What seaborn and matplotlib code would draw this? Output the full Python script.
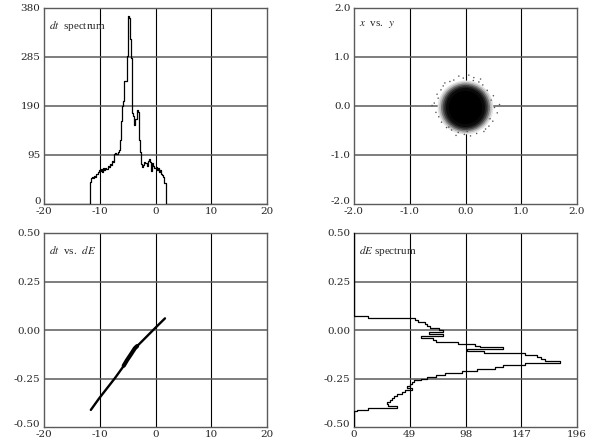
import numpy as np
import pandas as pd
import matplotlib
matplotlib.use("Agg")
import matplotlib.pyplot as plt
import matplotlib.transforms as mtransforms
from matplotlib.patches import Ellipse
import seaborn as sns

# ── data ────────────────────────────────────────────────────
# dt spectrum, 0.2 wide bins starting at -11.8
dt_start, dt_width = -11.8, 0.2
dt_counts = [42, 50, 52, 50, 54, 52, 58, 62, 66, 64,
             68, 63, 70, 66, 70, 68, 74, 72, 78, 76,
             84, 82, 96, 98, 96, 100, 104, 125, 160, 190,
             200, 238, 238, 286, 364, 360, 320, 283, 176, 170,
             153, 165, 182, 178, 124, 100, 78, 72, 76, 82,
             80, 74, 84, 88, 82, 64, 80, 74, 70, 72,
             66, 70, 62, 66, 58, 56, 52, 40]

# dE spectrum, 0.01 wide bins starting at -0.42
dE_start, dE_width = -0.42, 0.01
dE_counts = [3, 12, 38, 30, 29, 32, 33, 35, 38, 42,
             45, 51, 47, 49, 51, 53, 59, 64, 72, 80,
             95, 108, 124, 131, 150, 181, 168, 164, 161, 150,
             114, 99, 131, 111, 106, 91, 72, 69, 59, 78,
             66, 78, 75, 67, 64, 62, 56, 54, 12]

# dt vs dE correlation
corr_dt = [-11.6, -10.1, -7.3, -5.8, -5.1, -3.7, -2.8, -0.1, 1.7]
corr_dE = [-0.412, -0.352, -0.249, -0.189, -0.155, -0.094, -0.069, 0.009, 0.060]
core_dt = [-5.7, -5.1, -4.4, -3.7, -3.3]
core_dE = [-0.184, -0.155, -0.125, -0.094, -0.083]

# x vs y beam spot: nested density levels + sparse halo
blob_x0, blob_y0 = 0.0, -0.03
blob_rx = [0.50, 0.47, 0.44, 0.41, 0.38, 0.35, 0.30]
blob_ry = [0.55, 0.52, 0.49, 0.46, 0.43, 0.40, 0.34]
blob_shade = ["#e2e2e2", "#b8b8b8", "#7c7c7c", "#484848", "#222222", "#0a0a0a", "#000000"]
halo_x = [-0.56, -0.51, -0.48, -0.44, -0.37, -0.30, -0.21, -0.12, -0.04, 0.06,
          0.14, 0.24, 0.31, 0.39, 0.46, 0.52, 0.57, 0.49, 0.42, 0.33,
          0.20, 0.09, -0.02, -0.13, -0.25, -0.34, -0.43, -0.53, -0.60, 0.61,
          0.36, -0.40, 0.27, -0.17, 0.03, 0.50, -0.49, 0.15, -0.28, 0.44]
halo_y = [0.06, 0.24, -0.22, 0.33, 0.47, -0.43, 0.53, 0.61, 0.57, 0.63,
          0.52, 0.49, 0.43, 0.32, 0.12, -0.03, -0.14, -0.31, -0.41, -0.52,
          -0.56, -0.61, -0.58, -0.54, -0.49, -0.44, -0.33, -0.13, 0.01, 0.03,
          -0.47, 0.41, 0.55, -0.60, -0.52, 0.21, 0.16, 0.58, 0.50, -0.26]

dt_ticks = [-20, -10, 0, 10, 20]
dt_labels = ["-20", "-10", "0", "10", "20"]
cnt_ticks = [0, 95, 190, 285, 380]
cnt_labels = ["0", "95", "190", "285", "380"]
xy_ticks = [-2.0, -1.0, 0.0, 1.0, 2.0]
xy_labels = ["-2.0", "-1.0", "0.0", "1.0", "2.0"]
dE_ticks = [-0.50, -0.25, 0.0, 0.25, 0.50]
dE_labels = ["-0.50", "-0.25", "0.00", "0.25", "0.50"]
dEc_ticks = [0, 49, 98, 147, 196]
dEc_labels = ["0", "49", "98", "147", "196"]

# ── style ────────────────────────────────────────────────────
sns.set_style("white")
plt.rcParams["font.family"] = ["Liberation Serif", "DejaVu Serif"]
plt.rcParams["mathtext.fontset"] = "stix"
plt.rcParams["axes.unicode_minus"] = False

fig = plt.figure(figsize=(5.96, 4.45), dpi=100, facecolor="white")
W, H = 596, 445
def px_axes(x0, y0, x1, y1):
    return fig.add_axes([x0 / W, 1 - y1 / H, (x1 - x0) / W, (y1 - y0) / H])

ax1 = px_axes(44, 8, 267, 204)
ax2 = px_axes(354, 8, 577, 204)
ax3 = px_axes(44, 233, 267, 427)
ax4 = px_axes(354, 233, 577, 427)

TICK_FONT = dict(family="DejaVu Serif", size=7.5)
lift = mtransforms.ScaledTranslation(0, 2.5 / 72, fig.dpi_scale_trans)

def frame(ax, xt, xl, yt, yl, label):
    ax.set_xlim(xt[0], xt[-1])
    ax.set_ylim(yt[0], yt[-1])
    ax.set_xticks(xt)
    ax.set_xticklabels(xl, fontdict=TICK_FONT)
    ax.set_yticks(yt)
    ax.set_yticklabels(yl, fontdict=TICK_FONT)
    ax.tick_params(length=0, pad=2.5)
    # bottom y label sits a little above the corner, as in the original
    lab0 = ax.get_yticklabels()[0]
    lab0.set_transform(lab0.get_transform() + lift)
    for v in xt[1:-1]:
        ax.axvline(v, color="black", lw=0.8, zorder=1)
    for v in yt[1:-1]:
        ax.axhline(v, color="#5a5a5a", lw=1.1, zorder=1)
    for s in ax.spines.values():
        s.set_color("#5a5a5a")
        s.set_linewidth(1.0)
    ax.set_xlabel("")
    ax.set_ylabel("")
    ax.text(0.022, 0.945, label, transform=ax.transAxes, ha="left", va="top",
            fontsize=8, family="Liberation Serif")

# ── panel 1: dt spectrum ─────────────────────────────────────
dt_edges = np.concatenate([[-20.0], dt_start + dt_width * np.arange(len(dt_counts) + 1), [20.0]])
dt_df = pd.DataFrame({
    "dt": (dt_edges[:-1] + dt_edges[1:]) / 2,
    "n": np.concatenate([[0], dt_counts, [0]]),
})
sns.histplot(data=dt_df, x="dt", weights="n", bins=list(dt_edges), element="step",
             fill=False, color="black", lw=0.9, ax=ax1, zorder=3)
frame(ax1, dt_ticks, dt_labels, cnt_ticks, cnt_labels, r"$dt$  spectrum")

# ── panel 2: x vs y ──────────────────────────────────────────
for rx, ry, c in zip(blob_rx, blob_ry, blob_shade):
    ax2.add_patch(Ellipse((blob_x0, blob_y0), 2 * rx, 2 * ry, color=c, lw=0, zorder=3))
sns.scatterplot(x=halo_x, y=halo_y, s=1.2, color="#555555", edgecolor="none",
                ax=ax2, zorder=3)
frame(ax2, xy_ticks, xy_labels, xy_ticks, xy_labels, r"$x$  vs.  $y$")

# ── panel 3: dt vs dE ────────────────────────────────────────
sns.lineplot(x=corr_dt, y=corr_dE, sort=False, color="black", lw=1.7,
             ax=ax3, zorder=3)
sns.lineplot(x=core_dt, y=core_dE, sort=False, color="black", lw=3.0,
             ax=ax3, zorder=3)
frame(ax3, dt_ticks, dt_labels, dE_ticks, dE_labels, r"$dt$  vs.  $dE$")

# ── panel 4: dE spectrum ─────────────────────────────────────
dE_edges = np.concatenate([[-0.5], dE_start + dE_width * np.arange(len(dE_counts) + 1), [0.5]])
dE_df = pd.DataFrame({
    "dE": (dE_edges[:-1] + dE_edges[1:]) / 2,
    "n": np.concatenate([[0], dE_counts, [0]]),
})
sns.histplot(data=dE_df, y="dE", weights="n", bins=list(dE_edges), element="step",
             fill=False, color="black", lw=0.9, ax=ax4, zorder=3)
frame(ax4, dEc_ticks, dEc_labels, dE_ticks, dE_labels, r"$dE$ spectrum")

fig.savefig("out.png", dpi=100, facecolor="white")
plt.close(fig)
